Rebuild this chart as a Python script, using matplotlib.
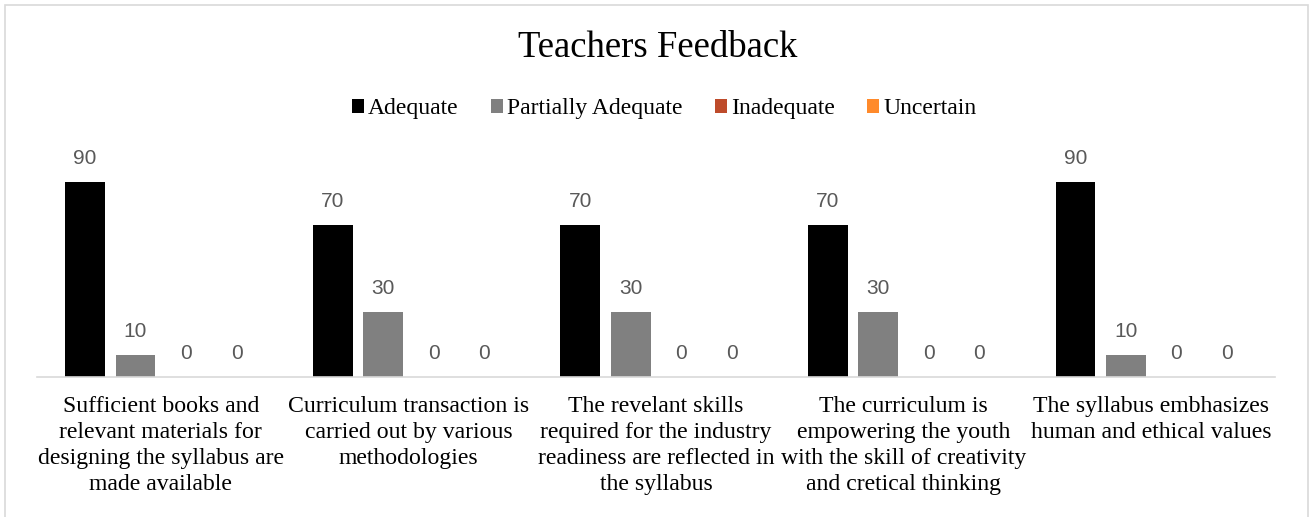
import numpy as np
import matplotlib
matplotlib.use('Agg')
import matplotlib.pyplot as plt
from matplotlib.patches import Rectangle

# categories and series values
categories = [
    "Sufficient books and\nrelevant materials for\ndesigning the syllabus are\nmade available",
    "Curriculum transaction is\ncarried out by various\nmethodologies",
    "The revelant skills\nrequired for the industry\nreadiness are reflected in\nthe syllabus",
    "The curriculum is\nempowering the youth\nwith the skill of creativity\nand cretical thinking",
    "The syllabus embhasizes\nhuman and ethical values",
]
series_names = ["Adequate", "Partially Adequate", "Inadequate", "Uncertain"]
adequate = [90, 70, 70, 70, 90]
partially = [10, 30, 30, 30, 10]
inadequate = [0, 0, 0, 0, 0]
uncertain = [0, 0, 0, 0, 0]
colors = ["#000000", "#808080", "#BE4B2B", "#FF8A2B"]

serif = "Liberation Serif"

fig = plt.figure(figsize=(13.12, 5.17), dpi=100)
# chart border (bottom edge is cut off in the original)
fig.add_artist(Rectangle((5 / 1312, -0.05), 1303 / 1312, (517 - 5) / 517 + 0.05,
                         transform=fig.transFigure, fill=False,
                         edgecolor="#D9D9D9", linewidth=1.2))

ax = fig.add_axes([37 / 1312, 140 / 517, 1238 / 1312, 216.7 / 517])

x = np.arange(len(categories))
width = 0.161
step = 0.204
all_series = [adequate, partially, inadequate, uncertain]
for i, (name, vals) in enumerate(zip(series_names, all_series)):
    offs = (i - 1.5) * step
    bars = ax.bar(x + offs, vals, width, color=colors[i], label=name)
    ax.bar_label(bars, padding=10, fontsize=15, color="#595959",
                 family="Liberation Sans")

ax.set_xlim(-0.5, len(categories) - 0.5)
ax.set_ylim(0, 100)
ax.set_yticks([])
ax.set_xticks(x)
ax.set_xticklabels(categories, fontsize=17.1, family=serif, linespacing=1.3)
ax.tick_params(axis="x", length=0, pad=14)
for s in ["top", "right", "left"]:
    ax.spines[s].set_visible(False)
ax.spines["bottom"].set_color("#D9D9D9")
ax.spines["bottom"].set_linewidth(1.2)

fig.text(0.5 + 1.5 / 1312, 1 - 48 / 517, "Teachers Feedback", ha="center",
         va="center", fontsize=26.5, family=serif)
fig.legend(loc="center", bbox_to_anchor=(0.5 + 8 / 1312, 1 - 109 / 517), ncol=4,
           frameon=False, prop={"family": serif, "size": 17},
           handlelength=0.52, handleheight=0.52, handletextpad=0.17,
           columnspacing=1.36)

fig.savefig("out.png", dpi=100)
